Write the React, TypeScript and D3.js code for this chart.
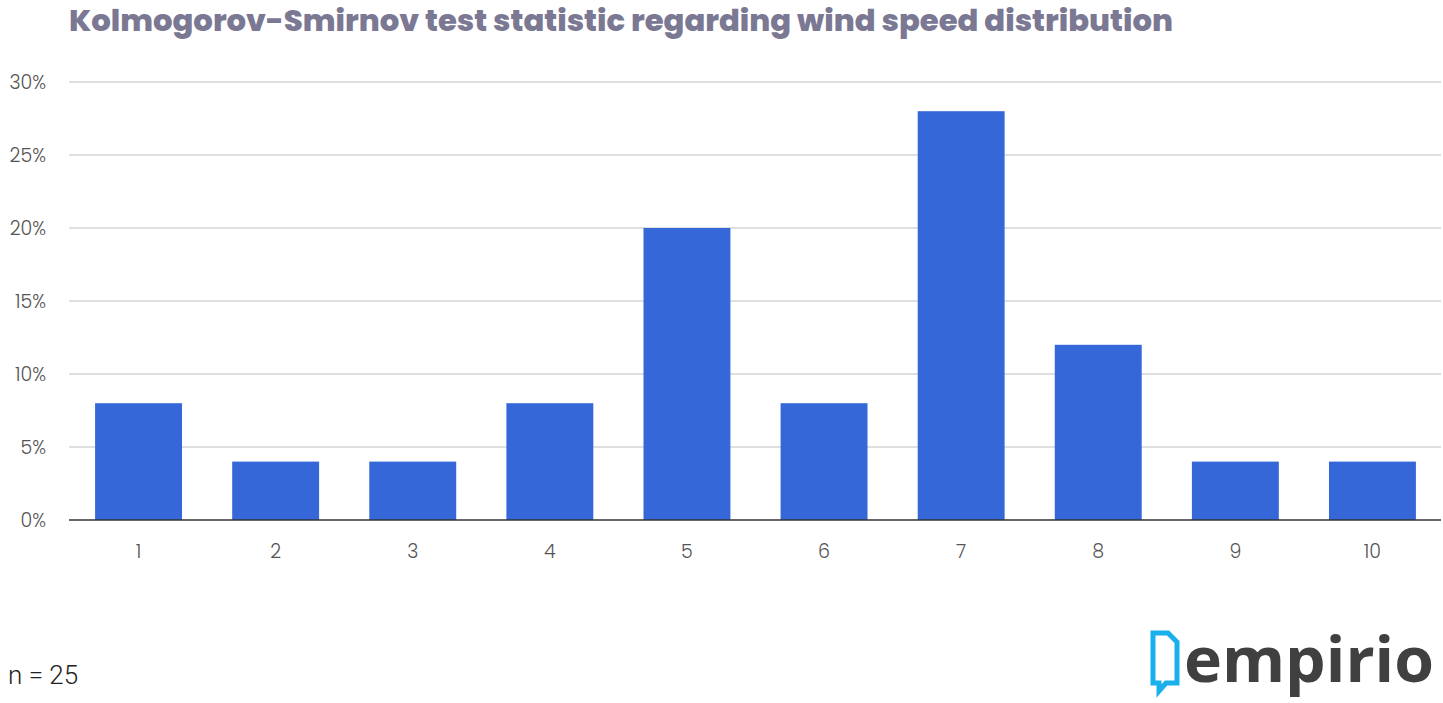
import React from "react";
import * as d3 from "d3";

const categories = ["1", "2", "3", "4", "5", "6", "7", "8", "9", "10"];
const values = [8, 4, 4, 8, 20, 8, 28, 12, 4, 4];
const yTicks = [0, 5, 10, 15, 20, 25, 30];
const title = "Kolmogorov-Smirnov test statistic regarding wind speed distribution";
const note = "n = 25";
const logoText = "empirio";

const W = 1443;
const H = 703;

export default function App() {
  const x = d3
    .scaleBand<string>()
    .domain(categories)
    .range([70, 1441])
    .paddingInner(0.366)
    .paddingOuter(0.183);
  const y = d3.scaleLinear().domain([0, 30]).range([520, 82]);
  const font = "Poppins, Roboto, 'Open Sans', sans-serif";

  return (
    <svg
      width={W}
      height={H}
      style={{ position: "absolute", left: 0, top: 0, background: "#fff" }}
    >
      <text
        x={69}
        y={31}
        fontFamily="Poppins, 'Open Sans', Inter, sans-serif"
        fontWeight={800}
        fontSize={30}
        fill="#7b7894"
        textLength={1104}
        lengthAdjust="spacingAndGlyphs"
      >
        {title}
      </text>

      {yTicks.map((t) => (
        <g key={t}>
          {t !== 0 && (
            <line x1={69} x2={1441} y1={y(t)} y2={y(t)} stroke="#d4d4d4" strokeWidth={1.3} />
          )}
          <text
            x={46}
            y={y(t)}
            dy="0.35em"
            textAnchor="end"
            fontFamily={font}
            fontWeight={300}
            fontSize={19}
            fill="#555"
          >
            {t}%
          </text>
        </g>
      ))}

      {categories.map((c, i) => (
        <rect
          key={c}
          x={x(c)}
          y={y(values[i])}
          width={x.bandwidth()}
          height={y(0) - y(values[i])}
          fill="#3667d8"
        />
      ))}

      <line x1={69} x2={1441} y1={y(0)} y2={y(0)} stroke="#333" strokeWidth={1.5} />

      {categories.map((c) => (
        <text
          key={c}
          x={(x(c) as number) + x.bandwidth() / 2}
          y={558}
          textAnchor="middle"
          fontFamily={font}
          fontWeight={300}
          fontSize={19}
          fill="#555"
        >
          {c}
        </text>
      ))}

      <text x={8} y={684} fontFamily="Roboto, sans-serif" fontWeight={300} fontSize={26} fill="#222">
        {note}
      </text>

      <g>
        <path
          d="M1153,633 L1168,633 L1177,642 L1177,683 L1166,683 L1159,691 L1159,683 L1153,683 Z"
          fill="none"
          stroke="#1ab0ec"
          strokeWidth={5}
          strokeLinejoin="miter"
        />
        <text
          x={1184}
          y={682}
          fontFamily="'Open Sans', sans-serif"
          fontWeight={700}
          fontSize={63}
          fill="#404040"
          textLength={250}
          lengthAdjust="spacingAndGlyphs"
        >
          {logoText}
        </text>
      </g>
    </svg>
  );
}
